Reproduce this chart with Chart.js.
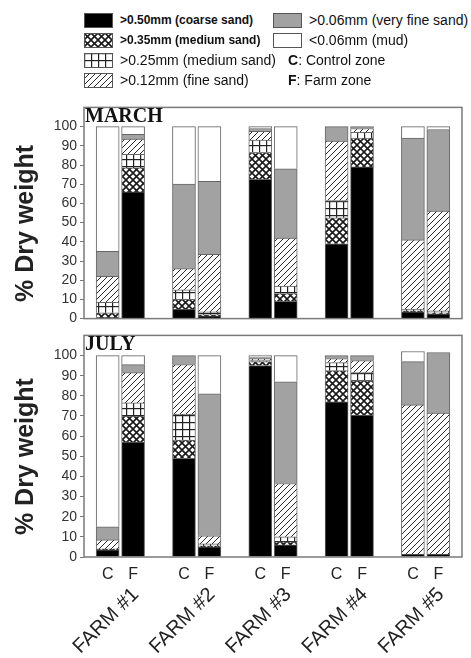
<!DOCTYPE html>
<html lang="en">
<head>
<meta charset="UTF-8">
<title>Sediment grain size, March and July</title>
<script src="https://cdn.jsdelivr.net/npm/chart.js"></script>
<style>
body {
    margin: 0;
    background: #fff;
    font-family: 'Liberation Sans', Arial, sans-serif;
}
.page {
    position: relative;
    width: 471px;
    height: 658px;
    overflow: hidden;
}
.item {
    position: absolute;
    display: flex;
    align-items: center;
    height: 20px;
    font-size: 14px;
    color: #111;
    white-space: nowrap;
}
.item canvas {
    margin-right: 7px;
}
.bold {
    font-weight: bold;
    font-size: 12px;
}
.month {
    position: absolute;
    left: 85px;
    font-family: 'Liberation Serif', 'Times New Roman', serif;
    font-weight: bold;
    font-size: 20px;
    color: #111;
    line-height: 1;
}
#march { position: absolute; left: 0; top: 96px; }
#july { position: absolute; left: 0; top: 324px; }
</style>
</head>
<body>
<div class="page">
    <div id="legend"></div>
    <canvas id="march" width="471" height="234"></canvas>
    <canvas id="july" width="471" height="334"></canvas>
    <div class="month" style="top:105px">MARCH</div>
    <div class="month" style="top:333px">JULY</div>
</div>

<script>
// categories
const farms = ['FARM #1', 'FARM #2', 'FARM #3', 'FARM #4', 'FARM #5'];
const zones = ['C', 'F'];
const yTicks = [0, 10, 20, 30, 40, 50, 60, 70, 80, 90, 100];
const fractions = ['>0.50mm (coarse sand)', '>0.35mm (medium sand)', '>0.25mm (medium sand)',
    '>0.12mm (fine sand)', '>0.06mm (very fine sand)', '<0.06mm (mud)'];

// values in order F1-C, F1-F, F2-C, F2-F ... F5-F (% dry weight)
const marchCoarse   = [0.5, 66, 5, 1.5, 72.5, 9, 39, 79, 3.5, 2.5];
const marchMedCross = [2.5, 12.5, 5, 0.5, 14, 4, 13.5, 15, 0.5, 0.5];
const marchMedGrid  = [5.5, 7, 5, 1.5, 6.5, 4, 9, 3, 1, 1];
const marchFine     = [13.5, 8, 11, 30, 4.5, 25, 31, 2, 36, 52];
const marchVeryFine = [13, 2.5, 44, 38, 1.5, 36, 7.5, 1, 53, 42.5];
const marchMud      = [65, 4, 30, 28.5, 1, 22, 0, 0, 6, 1.5];

const julyCoarse   = [3.5, 57, 49, 5, 95, 6, 77, 70.5, 1.5, 1.5];
const julyMedCross = [0.5, 13, 9, 0.5, 2, 1.5, 15.5, 17, 0, 0];
const julyMedGrid  = [0, 6.5, 13, 1, 0.5, 2.5, 4, 4, 0, 0];
const julyFine     = [4.5, 15, 24.5, 4, 1, 26.5, 2, 6, 74, 70];
const julyVeryFine = [6.5, 4, 4.5, 70.5, 0.5, 50.5, 1.5, 2.5, 21.5, 30];
const julyMud      = [85, 4.5, 0, 19, 1, 13, 0, 0, 5, 0];

const family = "'Liberation Sans', Arial, sans-serif";

// bar slots: each farm takes three slots (C, F, gap)
const positions = [];
const zoneLabels = [];
farms.forEach((f, i) => zones.forEach((z, j) => { positions.push(i * 3 + j); zoneLabels.push(z); }));
// the rotated farm name ends just under the F bar
const farmPositions = farms.map((f, i) => i * 3 + 1.1);

function makeFill(kind) {
    if (kind === 'black') return '#000000';
    if (kind === 'gray') return '#a2a2a2';
    if (kind === 'white') return '#ffffff';
    const c = document.createElement('canvas');
    const g = c.getContext('2d');
    if (kind === 'hatch') {
        c.width = c.height = 6;
        g.fillStyle = '#fff';
        g.fillRect(0, 0, 6, 6);
        g.strokeStyle = '#2a2a2a';
        g.lineWidth = 1;
        g.beginPath();
        g.moveTo(-1, 7); g.lineTo(7, -1);
        g.moveTo(-1, 1); g.lineTo(1, -1);
        g.moveTo(5, 7); g.lineTo(7, 5);
        g.stroke();
    } else if (kind === 'cross') {
        c.width = c.height = 7;
        g.fillStyle = '#fff';
        g.fillRect(0, 0, 7, 7);
        g.strokeStyle = '#1a1a1a';
        g.lineWidth = 1.6;
        g.beginPath();
        g.moveTo(-1, -1); g.lineTo(8, 8);
        g.moveTo(-1, 8); g.lineTo(8, -1);
        g.stroke();
    } else if (kind === 'grid') {
        c.width = c.height = 7;
        g.fillStyle = '#fff';
        g.fillRect(0, 0, 7, 7);
        g.fillStyle = '#222';
        g.fillRect(0, 0, 7, 1.2);
        g.fillRect(0, 0, 1.2, 7);
    }
    return g.createPattern(c, 'repeat');
}

const fills = ['black', 'cross', 'grid', 'hatch', 'gray', 'white'].map(makeFill);

// legend
const legendItems = [
    { left: 84, top: 10, fill: 0, text: fractions[0], bold: true },
    { left: 84, top: 30, fill: 1, text: fractions[1], bold: true },
    { left: 84, top: 50, fill: 2, text: fractions[2] },
    { left: 84, top: 70, fill: 3, text: fractions[3] },
    { left: 273, top: 10, fill: 4, text: fractions[4] },
    { left: 273, top: 30, fill: 5, text: fractions[5] },
    { left: 288, top: 50, key: 'C', text: ': Control zone' },
    { left: 288, top: 70, key: 'F', text: ': Farm zone' }
];
const legend = document.getElementById('legend');
legendItems.forEach(it => {
    const div = document.createElement('div');
    div.className = 'item';
    div.style.left = it.left + 'px';
    div.style.top = it.top + 'px';
    if (it.fill !== undefined) {
        const sw = document.createElement('canvas');
        sw.width = 29; sw.height = 15;
        const g = sw.getContext('2d');
        g.fillStyle = fills[it.fill];
        g.fillRect(0, 0, 29, 15);
        g.strokeStyle = '#555';
        g.lineWidth = 1;
        g.strokeRect(0.5, 0.5, 28, 14);
        div.appendChild(sw);
        const span = document.createElement('span');
        span.textContent = it.text;
        if (it.bold) span.className = 'bold';
        div.appendChild(span);
    } else {
        const b = document.createElement('b');
        b.textContent = it.key;
        div.appendChild(b);
        div.appendChild(document.createTextNode(it.text));
    }
    legend.appendChild(div);
});

const framePlugin = {
    id: 'frame',
    afterDraw(chart) {
        const a = chart.chartArea;
        const ctx = chart.ctx;
        ctx.save();
        ctx.strokeStyle = '#7a7a7a';
        ctx.lineWidth = 1.5;
        ctx.strokeRect(a.left, a.top, a.right - a.left, a.bottom - a.top);
        ctx.restore();
    }
};

function buildChart(id, series, showX) {
    const datasets = series.map((vals, k) => ({
        label: fractions[k],
        data: positions.map((x, i) => ({ x: x, y: vals[i] === 0 ? null : vals[i] })),
        backgroundColor: fills[k],
        borderColor: '#666',
        borderWidth: 1,
        barThickness: 23
    }));
    return new Chart(document.getElementById(id), {
        type: 'bar',
        data: { datasets: datasets },
        options: {
            responsive: false,
            animation: false,
            layout: { padding: { top: 5, right: 9, left: 0, bottom: 0 } },
            plugins: { legend: { display: false }, tooltip: { enabled: false } },
            scales: {
                x: {
                    type: 'linear',
                    stacked: true,
                    offset: false,
                    min: -0.93,
                    max: 13.93,
                    afterBuildTicks: s => { s.ticks = positions.map(v => ({ value: v })); },
                    afterFit: s => { s.height = showX ? 26 : 4; },
                    grid: { display: false },
                    border: { display: false },
                    ticks: {
                        display: showX,
                        autoSkip: false,
                        maxRotation: 0,
                        padding: 0,
                        color: '#222',
                        font: { size: 16, family: family },
                        callback: (v, i) => zoneLabels[i]
                    }
                },
                x2: {
                    type: 'linear',
                    position: 'bottom',
                    display: showX,
                    offset: false,
                    min: -0.93,
                    max: 13.93,
                    afterBuildTicks: s => { s.ticks = farmPositions.map(v => ({ value: v })); },
                    afterFit: s => { s.height = showX ? 75 : 0; },
                    grid: { display: false, drawTicks: false },
                    border: { display: false },
                    ticks: {
                        autoSkip: false,
                        minRotation: 45,
                        maxRotation: 45,
                        padding: 0,
                        color: '#222',
                        font: { size: 20, family: family },
                        callback: (v, i) => farms[i]
                    }
                },
                y: {
                    stacked: true,
                    min: 0,
                    max: 110,
                    afterBuildTicks: s => { s.ticks = yTicks.map(v => ({ value: v })); },
                    afterFit: s => { s.width = 84; },
                    border: { display: false },
                    grid: { drawOnChartArea: false, tickLength: 4, color: '#777' },
                    ticks: { padding: 3, color: '#333', font: { size: 14, family: family } },
                    title: {
                        display: true,
                        text: '% Dry weight   ',
                        color: '#222',
                        font: { size: 25, weight: 'bold', family: family },
                        padding: { top: 11, bottom: 0 }
                    }
                }
            }
        },
        plugins: [framePlugin]
    });
}

buildChart('march', [marchCoarse, marchMedCross, marchMedGrid, marchFine, marchVeryFine, marchMud], false);
buildChart('july', [julyCoarse, julyMedCross, julyMedGrid, julyFine, julyVeryFine, julyMud], true);
</script>
</body>
</html>
